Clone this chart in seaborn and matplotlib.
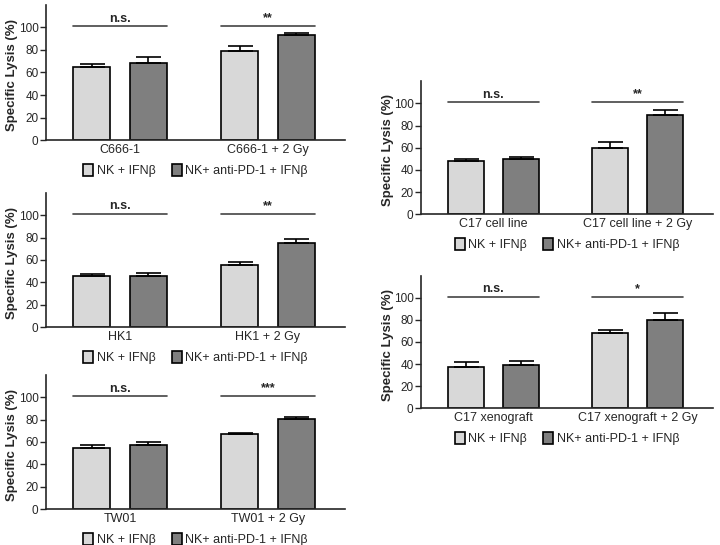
import pandas as pd
import numpy as np
import matplotlib
matplotlib.use('Agg')
import matplotlib.pyplot as plt
import seaborn as sns

sns.set_style('ticks')
plt.rcParams['font.family'] = ['Liberation Sans', 'DejaVu Sans']

# Data
treatments = ['NK + IFNβ', 'NK+ anti-PD-1 + IFNβ']
colors = ['#d8d8d8', '#7f7f7f']

c666_cells = ['C666-1', 'C666-1 + 2 Gy']
c666_mean = [65, 68, 79.5, 93]      # order: cell0/trt0, cell0/trt1, cell1/trt0, cell1/trt1
c666_sem = [2.5, 5.5, 4, 2.5]
c666_sig = ['n.s.', '**']

hk1_cells = ['HK1', 'HK1 + 2 Gy']
hk1_mean = [45.7, 45.4, 55.5, 75.2]
hk1_sem = [2.1, 3.0, 2.4, 3.6]
hk1_sig = ['n.s.', '**']

tw01_cells = ['TW01', 'TW01 + 2 Gy']
tw01_mean = [54.3, 57.6, 66.8, 81]
tw01_sem = [3.3, 2.1, 1.5, 1.0]
tw01_sig = ['n.s.', '***']

c17_cells = ['C17 cell line', 'C17 cell line + 2 Gy']
c17_mean = [48, 49.5, 60, 89.6]
c17_sem = [2.1, 2.1, 5.0, 4.4]
c17_sig = ['n.s.', '**']

xeno_cells = ['C17 xenograft', 'C17 xenograft + 2 Gy']
xeno_mean = [37.6, 39.1, 68.2, 80.2]
xeno_sem = [4.7, 3.9, 3.0, 5.8]
xeno_sig = ['n.s.', '*']

panels = [
    (c666_cells, c666_mean, c666_sem, c666_sig, [0.064, 0.743, 0.415, 0.248]),
    (hk1_cells, hk1_mean, hk1_sem, hk1_sig, [0.064, 0.400, 0.415, 0.246]),
    (tw01_cells, tw01_mean, tw01_sem, tw01_sig, [0.064, 0.066, 0.415, 0.246]),
    (c17_cells, c17_mean, c17_sem, c17_sig, [0.585, 0.607, 0.405, 0.244]),
    (xeno_cells, xeno_mean, xeno_sem, xeno_sig, [0.585, 0.251, 0.405, 0.243]),
]

fig = plt.figure(figsize=(7.2, 5.45), dpi=100)

for cells, mean, sem, sig, rect in panels:
    ax = fig.add_axes(rect)
    df = pd.DataFrame({
        'cell': [c for c in cells for _ in treatments],
        'treatment': treatments * len(cells),
        'lysis': mean,
        'sem': sem,
    })
    sns.barplot(data=df, x='cell', y='lysis', hue='treatment', hue_order=treatments,
                order=cells, palette=colors, errorbar=None, width=0.76, gap=0.34,
                edgecolor='black', linewidth=1.2, ax=ax)
    bars = list(ax.containers)

    # error bars (mean + SEM, upward only)
    for j, cont in enumerate(bars):
        sub = df[df['treatment'] == treatments[j]].set_index('cell').loc[cells]
        xs = [b.get_x() + b.get_width() / 2 for b in cont]
        hs = [b.get_height() for b in cont]
        ax.errorbar(xs, hs, yerr=[np.zeros(len(xs)), sub['sem'].values], fmt='none',
                    ecolor='black', elinewidth=1.2, capsize=9, capthick=1.2, zorder=1)

    # significance bars
    for i, label in enumerate(sig):
        b0 = bars[0][i]
        b1 = bars[1][i]
        x0 = b0.get_x()
        x1 = b1.get_x() + b1.get_width()
        ax.plot([x0, x1], [101, 101], color='#444444', lw=1.2)
        ax.text((x0 + x1) / 2, 102.5, label, ha='center', va='bottom',
                fontsize=9, fontweight='bold')

    ax.set_ylim(0, 120)
    ax.set_xlim(-0.5, 1.52)
    ax.set_yticks([0, 20, 40, 60, 80, 100])
    ax.tick_params(axis='y', labelsize=8.5, length=4, width=1, pad=1.5)
    ax.tick_params(axis='x', labelsize=9, length=0, pad=3)
    ax.set_xlabel('')
    ax.set_ylabel('Specific Lysis (%)', fontsize=9.5, fontweight='bold')
    ax.yaxis.set_label_coords(-0.094, 0.48)
    for s in ['left', 'bottom']:
        ax.spines[s].set_linewidth(1.2)
    sns.despine(ax=ax)

    handles, labels = ax.get_legend_handles_labels()
    ax.legend(handles, labels, ncol=2, loc='upper center', bbox_to_anchor=(0.5, -0.14),
              frameon=False, fontsize=9, handlelength=0.8, handleheight=1.1,
              handletextpad=0.3, columnspacing=1.3, borderaxespad=0)

plt.savefig('out.png', dpi=100)
